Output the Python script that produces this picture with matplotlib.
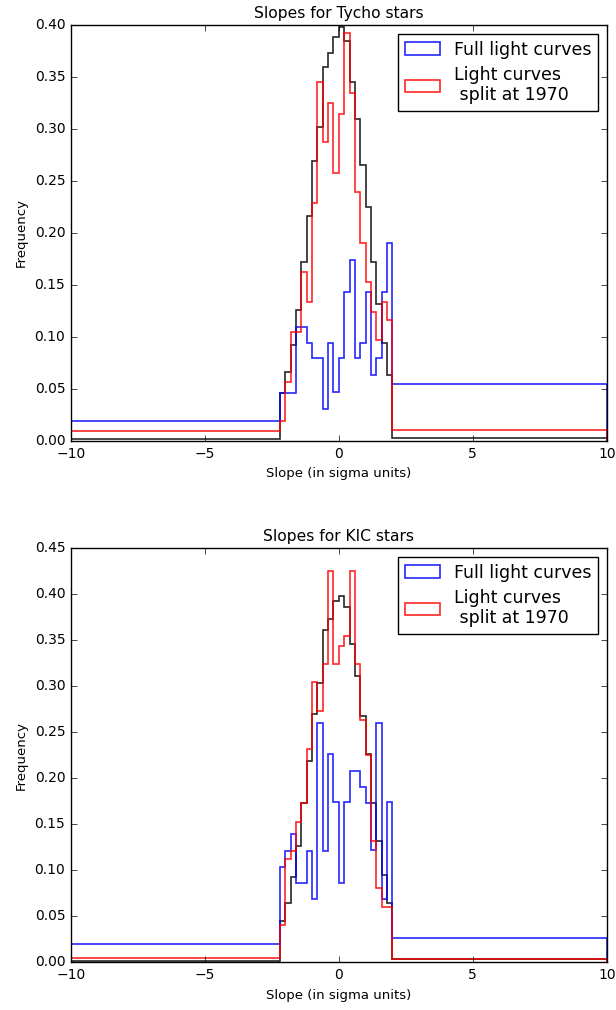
import numpy as np
import matplotlib
matplotlib.use('Agg')
import matplotlib.pyplot as plt

plt.style.use('classic')

# bin edges (sigma units): one wide bin each side, 0.2-wide bins in the middle
edges = [-10.0, -2.2, -2.0, -1.8, -1.6, -1.4, -1.2, -1.0, -0.8, -0.6, -0.4, -0.2,
         0.0, 0.2, 0.4, 0.6, 0.8, 1.0, 1.2, 1.4, 1.6, 1.8, 2.0, 10.0]

# Tycho stars
tycho_ref = [0.002, 0.046, 0.066, 0.092, 0.126, 0.172, 0.216, 0.269, 0.302, 0.360, 0.373,
             0.388, 0.398, 0.385, 0.345, 0.310, 0.265, 0.225, 0.172, 0.132, 0.094, 0.063, 0.003]
tycho_full = [0.0195, 0.046, 0.046, 0.046, 0.110, 0.110, 0.0945, 0.0795, 0.0795, 0.031, 0.0945,
              0.047, 0.0795, 0.143, 0.174, 0.0795, 0.0945, 0.143, 0.063, 0.0795, 0.143, 0.190, 0.055]
tycho_split = [0.0096, 0.019, 0.057, 0.1045, 0.1045, 0.162, 0.134, 0.229, 0.345, 0.287, 0.325,
               0.258, 0.314, 0.392, 0.335, 0.239, 0.190, 0.153, 0.124, 0.097, 0.134, 0.116, 0.011]

# KIC stars
kic_ref = [0.001, 0.0446, 0.0645, 0.0927, 0.126, 0.1725, 0.218, 0.270, 0.303, 0.361, 0.3725,
           0.392, 0.398, 0.386, 0.346, 0.311, 0.267, 0.226, 0.173, 0.132, 0.095, 0.064, 0.003]
kic_full = [0.0195, 0.1036, 0.121, 0.139, 0.086, 0.086, 0.121, 0.069, 0.260, 0.121, 0.2258,
            0.1736, 0.086, 0.1736, 0.208, 0.208, 0.1906, 0.1725, 0.122, 0.260, 0.069, 0.1736, 0.0257]
kic_split = [0.004, 0.040, 0.1116, 0.121, 0.1525, 0.1725, 0.232, 0.304, 0.273, 0.324, 0.425,
             0.324, 0.344, 0.354, 0.425, 0.324, 0.263, 0.225, 0.1315, 0.081, 0.060, 0.060, 0.003]

panels = [("Slopes for Tycho stars", tycho_ref, tycho_full, tycho_split, 0.40),
          ("Slopes for KIC stars", kic_ref, kic_full, kic_split, 0.45)]

fig = plt.figure(figsize=(6.16, 10.10), dpi=100, facecolor='white')
ax_pos = [[0.115, 0.5634, 0.870, 0.4119], [0.115, 0.0475, 0.870, 0.4099]]

centers = [(a + b) / 2 for a, b in zip(edges[:-1], edges[1:])]

for pos, (title, ref, full, split, ytop) in zip(ax_pos, panels):
    ax = fig.add_axes(pos)
    ax.hist(centers, bins=edges, weights=ref, histtype='step', color='k', alpha=0.85, lw=1.2)
    ax.hist(centers, bins=edges, weights=full, histtype='step', color='b', alpha=0.85, lw=1.2,
            label='Full light curves')
    ax.hist(centers, bins=edges, weights=split, histtype='step', color='r', alpha=0.85, lw=1.2,
            label='Light curves\n split at 1970')
    ax.set_xlim(-10, 10)
    ax.set_ylim(0, ytop)
    ax.set_yticks(np.arange(0, ytop + 0.001, 0.05))
    ax.set_title(title, fontsize=11.2)
    ax.set_xlabel('Slope (in sigma units)', fontsize=9.5)
    ax.set_ylabel('Frequency', fontsize=9.5)
    ax.tick_params(labelsize=10)
    ax.legend(loc='upper right', fontsize=12.5, handlelength=2.0, handletextpad=0.8,
              borderaxespad=0.5, labelspacing=0.4)

fig.savefig('out.png', dpi=100, facecolor='white')
